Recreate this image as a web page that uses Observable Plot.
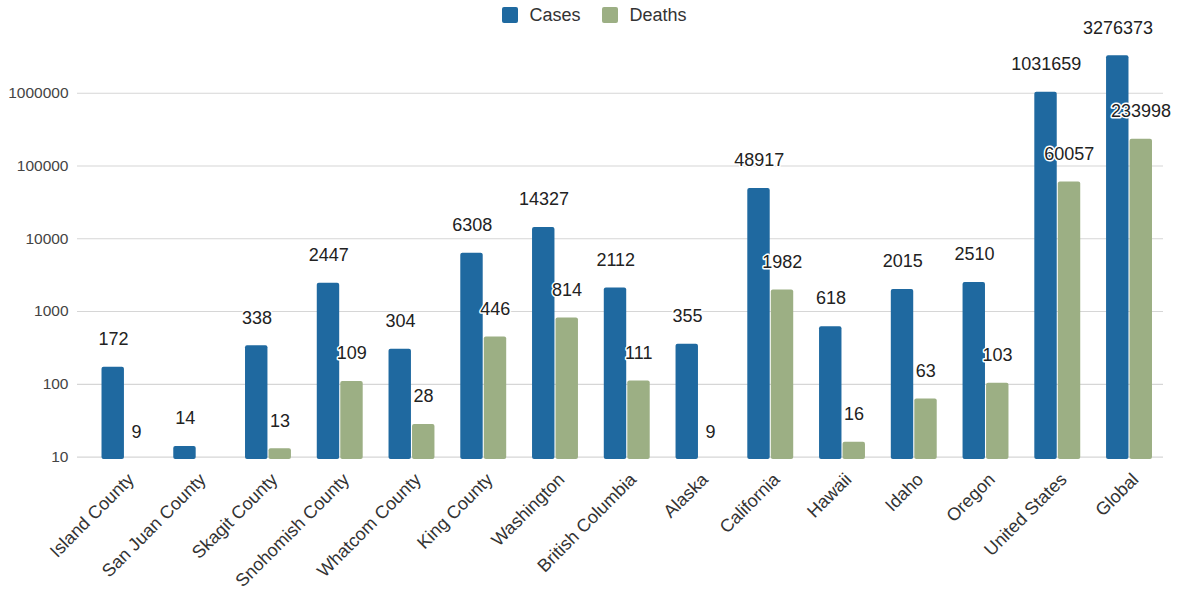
<!DOCTYPE html>
<html>
<head>
<meta charset="utf-8">
<script src="https://cdn.jsdelivr.net/npm/d3@7"></script>
<script src="https://cdn.jsdelivr.net/npm/@observablehq/plot@0.6"></script>
<style>
  html, body { margin: 0; padding: 0; background: #fff; }
  #wrap { position: relative; width: 1183px; height: 590px; font-family: "Liberation Sans", Arial, sans-serif; }
  #legend { position: absolute; top: 5px; left: 3px; width: 1183px; display: flex; justify-content: center; font-size: 18px; line-height: 20px; color: #333; }
  .item { display: flex; align-items: center; margin: 0 11px; }
  .sw { width: 16px; height: 16px; border-radius: 2px; margin-right: 11px; }
  #chart svg { display: block; }
</style>
</head>
<body>
<div id="wrap">
  <div id="chart"></div>
  <div id="legend"></div>
</div>
<script>
const categories = ["Island County", "San Juan County", "Skagit County", "Snohomish County", "Whatcom County", "King County", "Washington", "British Columbia", "Alaska", "California", "Hawaii", "Idaho", "Oregon", "United States", "Global"];
const cases = [172, 14, 338, 2447, 304, 6308, 14327, 2112, 355, 48917, 618, 2015, 2510, 1031659, 3276373];
const deaths = [9, 0, 13, 109, 28, 446, 814, 111, 9, 1982, 16, 63, 103, 60057, 233998];
const yTicks = [10, 100, 1000, 10000, 100000, 1000000];
const seriesNames = ["Cases", "Deaths"];
const colors = ["#1f69a0", "#9caf84"];

const caseRows = categories.map((c, i) => ({category: c, value: cases[i]}));
const deathRows = categories.map((c, i) => ({category: c, value: deaths[i]}));

const base = 9.25;
const half = 23.5;

const chart = Plot.plot({
  width: 1183,
  height: 590,
  marginLeft: 77,
  marginRight: 20,
  marginTop: 20,
  marginBottom: 131,
  style: {fontFamily: '"Liberation Sans", Arial, sans-serif', background: "#fff"},
  x: {domain: categories, range: [88.6, 1164.9], paddingInner: 0.36, paddingOuter: 0.18, round: false},
  y: {type: "log", domain: [base, 1e7]},
  marks: [
    Plot.ruleY(yTicks, {stroke: "#d6d6d6", strokeWidth: 1.2}),
    Plot.barY(caseRows.filter(d => d.value >= 10), {x: "category", y1: base, y2: "value", fill: colors[0], insetRight: half, rx: 2}),
    Plot.barY(deathRows.filter(d => d.value >= 10), {x: "category", y1: base, y2: "value", fill: colors[1], insetLeft: half, rx: 2}),
    Plot.text(caseRows.filter(d => d.value > 0), {x: "category", y: "value", text: d => String(d.value), dx: -11.5, dy: -28, fontSize: 18, fill: "#222", stroke: "white", strokeWidth: 3, paintOrder: "stroke"}),
    Plot.text(deathRows.filter(d => d.value > 0), {x: "category", y: "value", text: d => String(d.value), dx: 11.5, dy: -28, fontSize: 18, fill: "#222", stroke: "white", strokeWidth: 3, paintOrder: "stroke"}),
    Plot.axisY(yTicks, {tickFormat: d3.format("d"), tickSize: 0, tickPadding: 9, fontSize: 15.5, fill: "#444", label: null}),
    Plot.axisX({tickRotate: -45, tickSize: 0, tickPadding: 17, dx: 6, fontSize: 18, fill: "#333", label: null})
  ]
});
document.getElementById("chart").appendChild(chart);

const legend = document.getElementById("legend");
seriesNames.forEach((name, i) => {
  const item = document.createElement("div");
  item.className = "item";
  const sw = document.createElement("div");
  sw.className = "sw";
  sw.style.background = colors[i];
  const t = document.createElement("span");
  t.textContent = name;
  item.appendChild(sw);
  item.appendChild(t);
  legend.appendChild(item);
});
</script>
</body>
</html>
